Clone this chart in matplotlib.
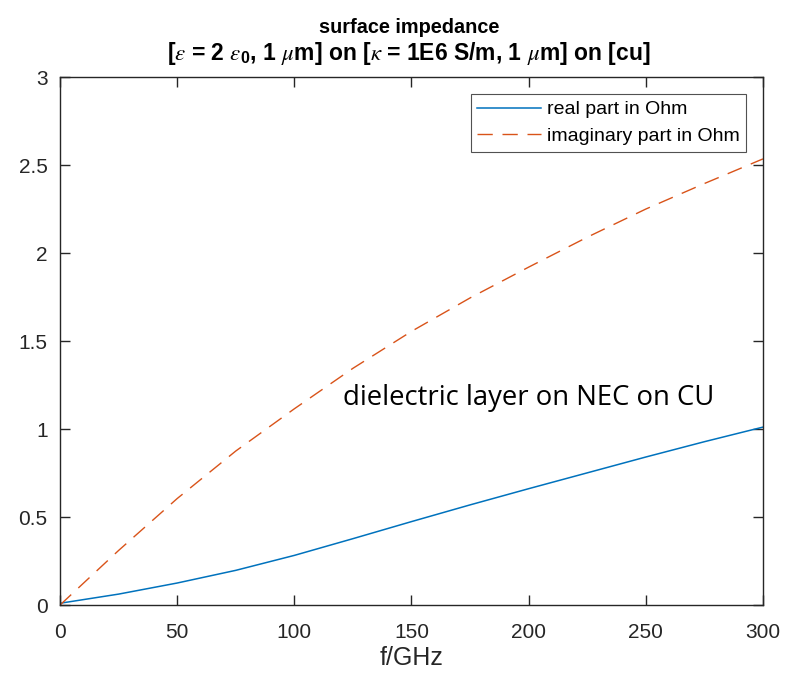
import matplotlib
matplotlib.use("Agg")
import matplotlib.pyplot as plt

# data
freq_ghz = [0, 25, 50, 75, 100, 125, 150, 175, 200, 225, 250, 275, 300]
real_part = [0.01, 0.062, 0.125, 0.197, 0.282, 0.377, 0.474, 0.569, 0.661, 0.751, 0.841, 0.928, 1.011]
imag_part = [0.0, 0.31, 0.605, 0.875, 1.115, 1.345, 1.555, 1.745, 1.92, 2.09, 2.25, 2.395, 2.535]
xticks = [0, 50, 100, 150, 200, 250, 300]
yticks = [0, 0.5, 1, 1.5, 2, 2.5, 3]
ytick_labels = ["0", "0.5", "1", "1.5", "2", "2.5", "3"]

plt.rcParams['font.family'] = ['Liberation Sans', 'DejaVu Sans']
plt.rcParams['mathtext.fontset'] = 'custom'
plt.rcParams['mathtext.it'] = 'STIXGeneral:italic'
plt.rcParams['mathtext.rm'] = 'Liberation Sans:bold'
plt.rcParams['mathtext.bf'] = 'Liberation Sans:bold'
plt.rcParams['mathtext.fallback'] = 'stix'

fig = plt.figure(figsize=(7.96, 6.76), dpi=100)
ax = fig.add_axes([0.0754, 0.105, 0.8831, 0.781])

ax.plot(freq_ghz, real_part, color='#0072BD', lw=1.1, label='real part in Ohm')
ax.plot(freq_ghz, imag_part, color='#D95319', lw=1.0, dashes=(11, 7), label='imaginary part in Ohm')

ax.set_xlim(0, 300)
ax.set_ylim(0, 3)
ax.set_xticks(xticks)
ax.set_xticklabels([str(v) for v in xticks])
ax.set_yticks(yticks)
ax.set_yticklabels(ytick_labels)

axis_col = '#262626'
for s in ax.spines.values():
    s.set_color(axis_col)
    s.set_linewidth(1.0)
ax.tick_params(direction='in', length=7, width=1.0, colors=axis_col, labelsize=15,
               top=True, right=True)
ax.tick_params(axis='x', pad=13)
ax.tick_params(axis='y', pad=9)
for lab in ax.get_xticklabels() + ax.get_yticklabels():
    lab.set_color(axis_col)

ax.set_xlabel('f/GHz', fontsize=18, color=axis_col)
ax.xaxis.set_label_coords(0.5, -0.077)

# title (two lines)
cx = 0.514
fig.text(cx, 0.9512, 'surface impedance', fontsize=14.3, fontweight='bold',
         ha='center', va='baseline', color='black')
fig.text(cx, 0.9112,
         r'[$\epsilon$ = 2 $\epsilon_\mathbf{0}$, 1 $\mu$m] on [$\kappa$ = 1E6 S/m, 1 $\mu$m] on [cu]',
         fontsize=16.5, fontweight='bold', ha='center', va='baseline', color='black')

leg = ax.legend(loc='upper right', bbox_to_anchor=(0.976, 0.968), borderaxespad=0,
                fontsize=14, frameon=True, fancybox=False,
                edgecolor='#262626', handlelength=3.3, handletextpad=0.26,
                borderpad=0.35, labelspacing=0.45)
leg.get_frame().set_linewidth(0.8)

ax.text(120.8, 1.136, 'dielectric layer on NEC on CU', fontsize=19.8,
        family=['Open Sans', 'DejaVu Sans'], va='baseline', ha='left', color='black')

fig.savefig('out.png', dpi=100)
